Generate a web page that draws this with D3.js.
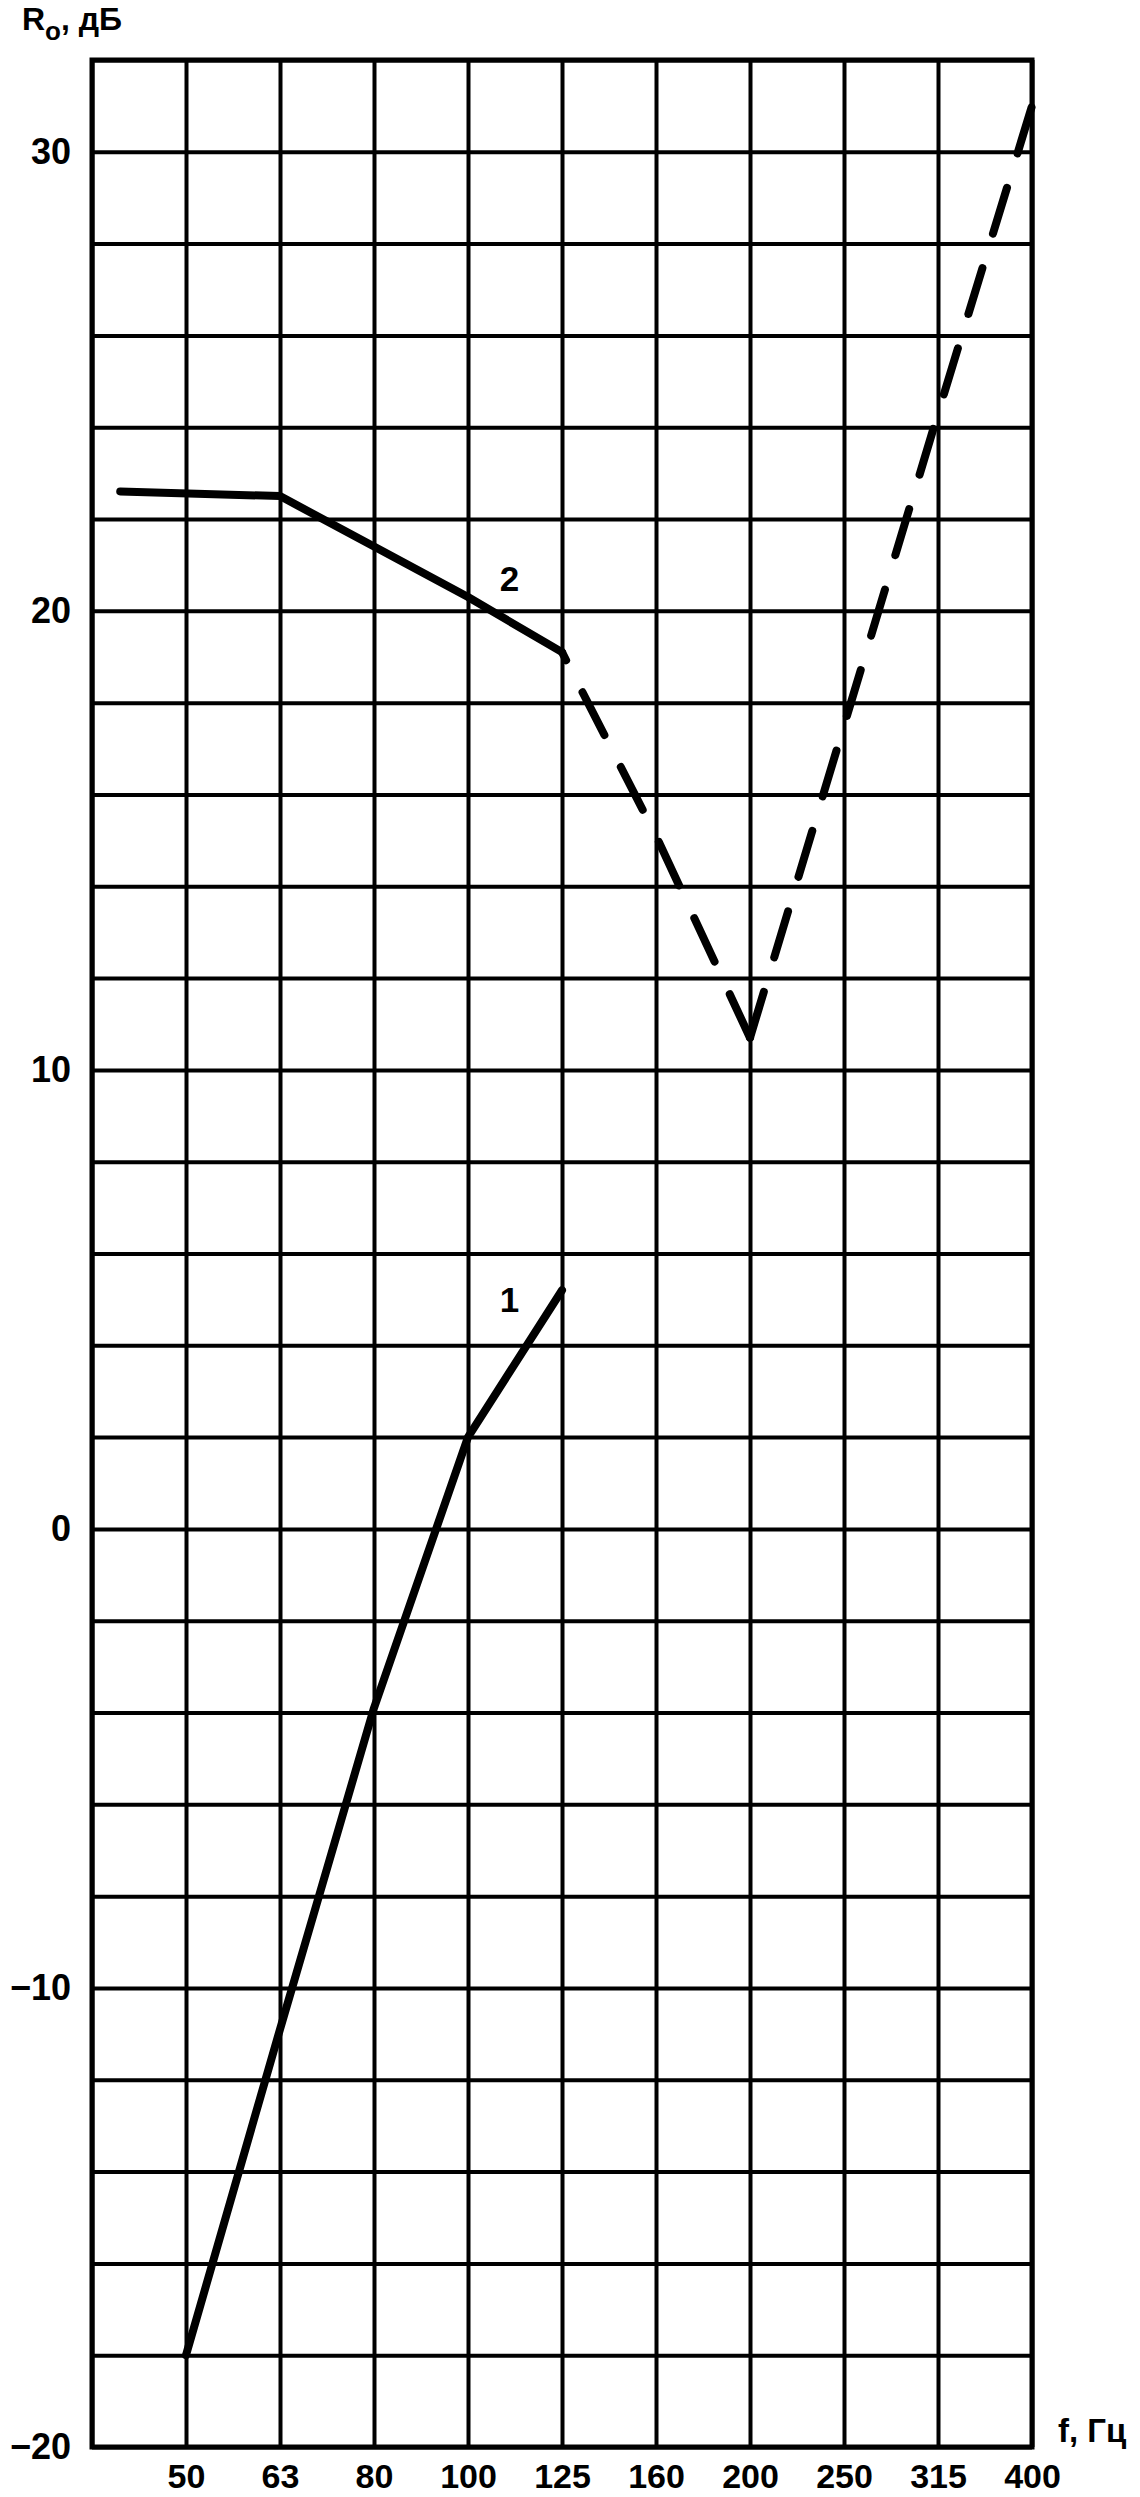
<!DOCTYPE html>
<html>
<head>
<meta charset="utf-8">
<script src="https://cdn.jsdelivr.net/npm/d3@7"></script>
<style>
  body { margin: 0; background: #fff; }
  svg text { font-family: "Liberation Sans", Arial, sans-serif; font-weight: bold; fill: #000; }
</style>
</head>
<body>
<div id="chart"></div>
<script>
// grid runs from an unlabeled 40 Hz band up to 400 Hz (third-octave steps)
const gridFreqs = [40, 50, 63, 80, 100, 125, 160, 200, 250, 315, 400];
const tickFreqs = [50, 63, 80, 100, 125, 160, 200, 250, 315, 400];
const yLabels = [-20, -10, 0, 10, 20, 30];

// curve 1
const curve1Freq = [50, 63, 80, 100, 125];
const curve1Val = [-18, -10.9, -3.9, 2.0, 5.2];

// curve 2, solid part
const curve2Freq = [43, 63, 80, 100, 125];
const curve2Val = [22.6, 22.5, 21.4, 20.3, 19.1];

// curve 2, dashed part (down to the dip, then back up)
const curve2dFreqA = [125, 160, 200];
const curve2dValA = [19.1, 15.1, 10.7];
const curve2dFreqB = [200, 250, 315, 400];
const curve2dValB = [10.7, 17.5, 24.3, 31.0];

// curve numbers
const curveNames = ["1", "2"];
const nameFreq = [111, 111];
const nameVal = [5.0, 20.7];

const W = 1140, H = 2497;
const margin = {left: 92, top: 60, right: 108, bottom: 50};
const w = W - margin.left - margin.right;
const h = H - margin.top - margin.bottom;

// even spacing per band
const step = w / (gridFreqs.length - 1);
const x = d3.scaleLinear()
  .domain(gridFreqs)
  .range(gridFreqs.map((d, i) => i * step));

const y = d3.scaleLinear()
  .domain([-20, 32])
  .range([h, 0]);

const svg = d3.select("#chart").append("svg")
  .attr("width", W)
  .attr("height", H);

const g = svg.append("g")
  .attr("transform", "translate(" + margin.left + "," + margin.top + ")");

// horizontal grid, every 2 dB
g.append("g")
  .attr("class", "ygrid")
  .call(d3.axisLeft(y).tickValues(d3.range(-20, 33, 2)).tickSize(-w).tickFormat(""))
  .call(s => s.select(".domain").remove())
  .selectAll("line")
  .attr("stroke", "#000")
  .attr("stroke-width", 4);

// vertical grid at each band
g.append("g")
  .attr("class", "xgrid")
  .attr("transform", "translate(0," + h + ")")
  .call(d3.axisBottom(x).tickValues(gridFreqs).tickSize(-h).tickFormat(""))
  .call(s => s.select(".domain").remove())
  .selectAll("line")
  .attr("stroke", "#000")
  .attr("stroke-width", 4);

// frame
g.append("rect")
  .attr("x", 0)
  .attr("y", 0)
  .attr("width", w)
  .attr("height", h)
  .attr("fill", "none")
  .attr("stroke", "#000")
  .attr("stroke-width", 5);

// y tick labels
g.append("g")
  .call(d3.axisLeft(y).tickValues(yLabels).tickSize(0).tickPadding(21)
    .tickFormat(d => d < 0 ? "\u2212" + Math.abs(d) : d))
  .call(s => s.select(".domain").remove())
  .selectAll("text")
  .attr("font-size", 36);

// x tick labels
g.append("g")
  .attr("transform", "translate(0," + h + ")")
  .call(d3.axisBottom(x).tickValues(tickFreqs).tickSize(0).tickPadding(17).tickFormat(d => d))
  .call(s => s.select(".domain").remove())
  .selectAll("text")
  .attr("font-size", 34);

const line = d3.line()
  .x(d => x(d[0]))
  .y(d => y(d[1]));

function curve(fs, vs) {
  return g.append("path")
    .datum(d3.zip(fs, vs))
    .attr("d", line)
    .attr("fill", "none")
    .attr("stroke", "#000")
    .attr("stroke-width", 8)
    .attr("stroke-linejoin", "round")
    .attr("stroke-linecap", "round");
}

curve(curve1Freq, curve1Val);
curve(curve2Freq, curve2Val);

// dashed parts: left one ends on a dash at the dip, right one starts on a dash there
const dash = 48, gap = 36;
const dA = curve(curve2dFreqA, curve2dValA).attr("stroke-dasharray", dash + "," + gap);
const lenA = dA.node().getTotalLength();
dA.attr("stroke-dashoffset", dash - (lenA % (dash + gap)));
curve(curve2dFreqB, curve2dValB).attr("stroke-dasharray", dash + "," + gap);

// curve numbers
g.selectAll(".cname")
  .data(curveNames)
  .enter()
  .append("text")
  .attr("class", "cname")
  .attr("x", (d, i) => x(nameFreq[i]))
  .attr("y", (d, i) => y(nameVal[i]))
  .attr("dy", "0.35em")
  .attr("text-anchor", "middle")
  .attr("font-size", 35)
  .text(d => d);

// axis titles
const yt = svg.append("text")
  .attr("x", 22)
  .attr("y", 30)
  .attr("font-size", 32);
yt.append("tspan").text("R");
yt.append("tspan").attr("dy", 10).attr("font-size", 26).text("o");
yt.append("tspan").attr("dy", -10).text(", дБ");

svg.append("text")
  .attr("x", 1058)
  .attr("y", 2442)
  .attr("font-size", 33)
  .text("f, Гц");
</script>
</body>
</html>
